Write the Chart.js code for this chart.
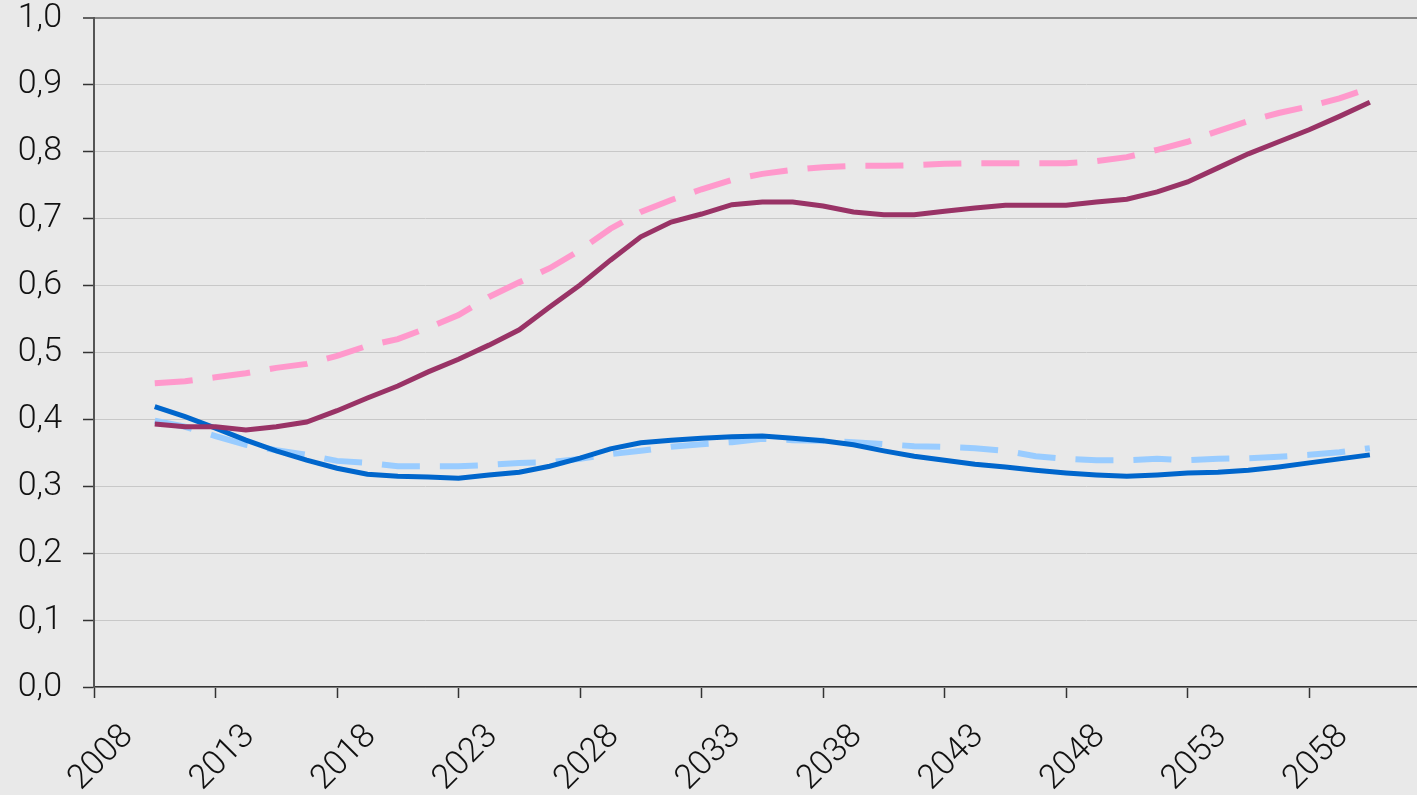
<!DOCTYPE html>
<html>
<head>
<meta charset="utf-8">
<script src="https://cdn.jsdelivr.net/npm/chart.js@4"></script>
<style>
  html, body { margin: 0; padding: 0; background: #e9e9e9; }
  canvas { display: block; }
</style>
</head>
<body>
<canvas id="mainChart" width="1417" height="795"></canvas>
<script>
// ==================== DỮ LIỆU ====================

// nhãn trục x (năm)
const xTickLabels = [2008, 2013, 2018, 2023, 2028, 2033, 2038, 2043, 2048, 2053, 2058];

// vị trí các điểm theo năm
const years = [
    2010.5, 2011.75, 2013, 2014.25, 2015.5, 2016.75, 2018, 2019.25, 2020.5, 2021.75,
    2023, 2024.25, 2025.5, 2026.75, 2028, 2029.25, 2030.5, 2031.75, 2033, 2034.25,
    2035.5, 2036.75, 2038, 2039.25, 2040.5, 2041.75, 2043, 2044.25, 2045.5, 2046.75,
    2048, 2049.25, 2050.5, 2051.75, 2053, 2054.25, 2055.5, 2056.75, 2058, 2059.25,
    2060.5
];

// đường tím (liền)
const purpleValues = [
    0.393, 0.389, 0.389, 0.384, 0.389, 0.396, 0.413, 0.432, 0.450, 0.471,
    0.490, 0.511, 0.534, 0.568, 0.601, 0.638, 0.673, 0.695, 0.707, 0.721,
    0.725, 0.725, 0.719, 0.710, 0.706, 0.706, 0.711, 0.716, 0.720, 0.720,
    0.720, 0.725, 0.729, 0.740, 0.755, 0.776, 0.797, 0.815, 0.833, 0.853,
    0.874
];

// đường hồng (nét đứt)
const pinkValues = [
    0.454, 0.457, 0.463, 0.469, 0.477, 0.483, 0.495, 0.510, 0.520, 0.537,
    0.556, 0.583, 0.605, 0.626, 0.653, 0.685, 0.710, 0.728, 0.744, 0.758,
    0.767, 0.773, 0.777, 0.779, 0.779, 0.780, 0.782, 0.783, 0.783, 0.783,
    0.783, 0.786, 0.792, 0.803, 0.815, 0.831, 0.846, 0.858, 0.868, 0.880,
    0.895
];

// đường xanh đậm (liền)
const blueValues = [
    0.419, 0.404, 0.387, 0.369, 0.353, 0.339, 0.327, 0.318, 0.315, 0.314,
    0.312, 0.317, 0.321, 0.330, 0.342, 0.356, 0.365, 0.369, 0.372, 0.374,
    0.375, 0.372, 0.368, 0.362, 0.353, 0.345, 0.339, 0.333, 0.329, 0.324,
    0.320, 0.317, 0.315, 0.317, 0.320, 0.321, 0.324, 0.329, 0.335, 0.341,
    0.347
];

// đường xanh nhạt (nét đứt)
const lightBlueValues = [
    0.398, 0.389, 0.375, 0.362, 0.354, 0.347, 0.338, 0.335, 0.330, 0.330,
    0.330, 0.332, 0.335, 0.336, 0.341, 0.348, 0.353, 0.359, 0.363, 0.366,
    0.371, 0.369, 0.368, 0.366, 0.363, 0.360, 0.359, 0.357, 0.353, 0.345,
    0.341, 0.339, 0.339, 0.341, 0.339, 0.341, 0.342, 0.344, 0.347, 0.351,
    0.357
];

const toPoints = vals => vals.map((v, i) => ({ x: years[i], y: v }));

const tickFont = { family: 'Roboto, "Liberation Sans", sans-serif', size: 34, weight: '300' };

// bỏ phần đệm tự động của trục để vùng vẽ khớp ảnh gốc
const noScalePadding = scale => {
    scale.paddingTop = 0;
    scale.paddingBottom = 0;
    scale.paddingLeft = 0;
    scale.paddingRight = 0;
};

const ctx = document.getElementById('mainChart').getContext('2d');

new Chart(ctx, {
    type: 'line',
    data: {
        datasets: [
            {
                data: toPoints(purpleValues),
                borderColor: '#993366',
                borderWidth: 5
            },
            {
                data: toPoints(blueValues),
                borderColor: '#0066cc',
                borderWidth: 5
            },
            {
                data: toPoints(pinkValues),
                borderColor: '#ff99cc',
                borderWidth: 6,
                borderDash: [38, 20]
            },
            {
                data: toPoints(lightBlueValues),
                borderColor: '#99ccff',
                borderWidth: 6,
                borderDash: [38, 20]
            }
        ]
    },
    options: {
        responsive: false,
        devicePixelRatio: 1,
        animation: false,
        elements: {
            point: { radius: 0 },
            line: { tension: 0, borderCapStyle: 'butt', borderJoinStyle: 'miter' }
        },
        layout: { padding: { top: 18, left: 0, right: 0, bottom: 0 } },
        plugins: {
            legend: { display: false },
            tooltip: { enabled: false }
        },
        scales: {
            x: {
                type: 'linear',
                min: 2008,
                max: 2062.44,
                afterBuildTicks: scale => {
                    scale.ticks = xTickLabels.map(v => ({ value: v }));
                },
                afterFit: scale => {
                    scale.height = 108;
                    noScalePadding(scale);
                },
                ticks: {
                    autoSkip: false,
                    minRotation: 45,
                    maxRotation: 45,
                    labelOffset: 34,
                    padding: 19,
                    color: '#111',
                    font: tickFont,
                    callback: v => String(v)
                },
                grid: {
                    drawOnChartArea: false,
                    drawTicks: true,
                    tickLength: 11,
                    tickColor: '#333',
                    tickWidth: 1.5
                },
                border: { color: '#333', width: 1.5 }
            },
            y: {
                min: 0,
                max: 1,
                afterFit: scale => {
                    scale.width = 94;
                    noScalePadding(scale);
                },
                ticks: {
                    stepSize: 0.1,
                    padding: 21,
                    color: '#111',
                    font: tickFont,
                    callback: v => v.toFixed(1).replace('.', ',')
                },
                grid: {
                    color: c => c.tick && Math.abs(c.tick.value - 1) < 1e-6 ? '#888' : '#c8c8c8',
                    lineWidth: c => c.tick && Math.abs(c.tick.value - 1) < 1e-6 ? 2 : 1,
                    drawTicks: true,
                    tickLength: 11,
                    tickColor: '#333',
                    tickWidth: 1.5
                },
                border: { color: '#555', width: 2 }
            }
        }
    }
});
</script>
</body>
</html>
